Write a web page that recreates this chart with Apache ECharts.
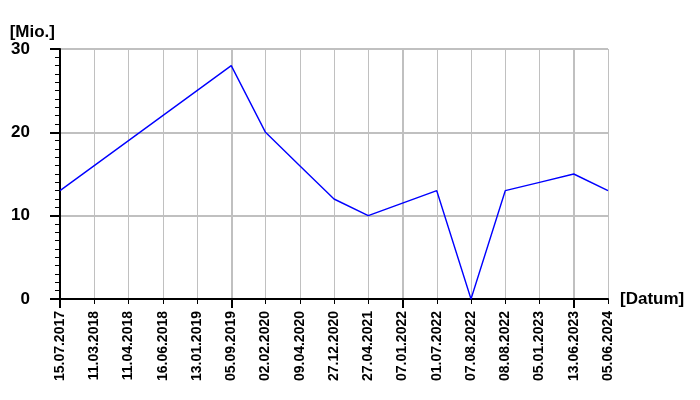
<!DOCTYPE html>
<html><head><meta charset="utf-8">
<script src="https://cdn.jsdelivr.net/npm/echarts@6/dist/echarts.min.js"></script>
<style>html,body{margin:0;padding:0;background:#fff}#c{width:700px;height:400px}</style>
</head><body><div id="c"></div>
<script>
var categories = ['15.07.2017','11.03.2018','11.04.2018','16.06.2018','13.01.2019','05.09.2019','02.02.2020','09.04.2020','27.12.2020','27.04.2021','07.01.2022','01.07.2022','07.08.2022','08.08.2022','05.01.2023','13.06.2023','05.06.2024'];
var values = [13,16,19,22,25,28,20,16,12,10,11.5,13,0,13,14,15,13];
var yTicks = [0,10,20,30];

var font = 'Liberation Sans, Arial, sans-serif';
var chart = echarts.init(document.getElementById('c'));
var major = function(i){ return i % 5 === 0; };
chart.setOption({
  animation: false,
  grid: {left: 60, right: 92, top: 49, bottom: 101},
  xAxis: [{
    type: 'category', data: categories, boundaryGap: false,
    axisLine: {lineStyle: {color: '#000', width: 2}},
    axisTick: {show: true, length: 5, interval: 0, lineStyle: {color: '#000', width: 1}},
    axisLabel: {rotate: 90, interval: 0, margin: 12, color: '#000', fontSize: 14, fontWeight: 'bold', fontFamily: font},
    splitLine: {show: true, interval: 0, lineStyle: {color: '#c0c0c0', width: 1}},
    name: '[Datum]', nameLocation: 'end', nameGap: 12,
    nameTextStyle: {color: '#000', fontSize: 17, fontWeight: 'bold', fontFamily: font, verticalAlign: 'middle'}
  },{
    type: 'category', data: categories, boundaryGap: false, position: 'bottom',
    axisLine: {show: false},
    axisTick: {show: true, length: 9, interval: function(i){return major(i);}, lineStyle: {color: '#000', width: 2}},
    axisLabel: {show: false},
    splitLine: {show: true, interval: function(i){return major(i);}, lineStyle: {color: '#c0c0c0', width: 2}}
  }],
  yAxis: {
    type: 'value', min: yTicks[0], max: yTicks[yTicks.length-1], interval: 10,
    axisLine: {show: true, lineStyle: {color: '#000', width: 2}},
    axisTick: {show: true, length: 10, lineStyle: {color: '#000', width: 2}},
    minorTick: {show: true, splitNumber: 10, length: 5, lineStyle: {color: '#000', width: 1}},
    axisLabel: {margin: 30, color: '#000', fontSize: 17, fontWeight: 'bold', fontFamily: font},
    splitLine: {show: true, lineStyle: {color: '#c0c0c0', width: 2}},
    name: '[Mio.]', nameLocation: 'end', nameGap: 5,
    nameTextStyle: {color: '#000', fontSize: 17, fontWeight: 'bold', fontFamily: font, align: 'right', verticalAlign: 'bottom', padding: [0, 5, 0, 0]}
  },
  series: [{
    type: 'line', data: values, xAxisIndex: 0, showSymbol: false, symbol: 'none',
    lineStyle: {color: '#0000ff', width: 1.4}, z: 5
  }]
});
</script></body></html>
